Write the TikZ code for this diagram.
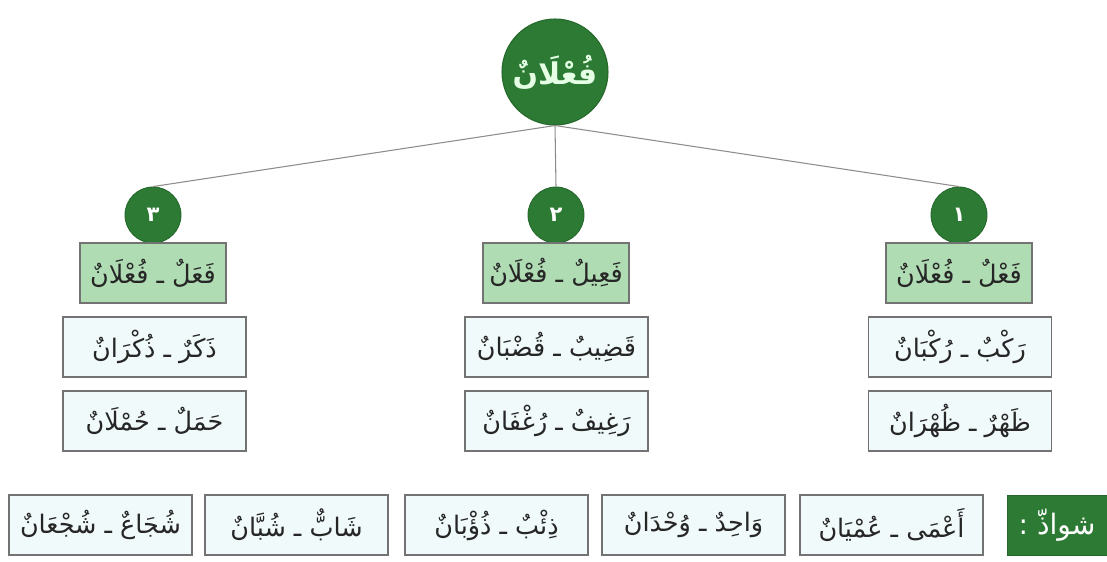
\documentclass[tikz,border=0pt]{standalone}
\usepackage{fontspec}
\newfontfamily\arabicfont[Script=Arabic]{DejaVu Sans}
\TeXXeTstate=1
\usepackage{tikz}
\usetikzlibrary{positioning}

\definecolor{vertfonce}{RGB}{44,122,52}
\definecolor{vertpale}{RGB}{176,220,180}
\definecolor{bleupale}{RGB}{241,250,250}
% texte de droite a gauche
\newcommand{\arabtxt}[1]{\beginR#1\endR}

\begin{document}
\begin{tikzpicture}[
  x=1cm, y=1cm,
  racine/.style={
    circle, fill=vertfonce, draw=vertfonce!85!black, line width=0.6pt,
    inner sep=0pt, minimum size=2.12cm, text=green!10,
    font=\arabicfont\bfseries\fontsize{17}{20}\selectfont
  },
  numero/.style={
    circle, fill=vertfonce, draw=vertfonce!85!black, line width=0.5pt,
    inner sep=0pt, minimum size=1.12cm, text=white,
    font=\arabicfont\bfseries\fontsize{12}{14}\selectfont
  },
  wazn/.style={
    rectangle, fill=vertpale, draw=black!55, line width=0.7pt,
    minimum width=2.92cm, minimum height=1.20cm, inner sep=2pt,
    text=black!85, font=\arabicfont\fontsize{14.5}{17}\selectfont
  },
  mot/.style={
    rectangle, fill=bleupale, draw=black!55, line width=0.7pt,
    minimum width=3.66cm, minimum height=1.20cm, inner sep=2pt,
    text=black!85, font=\arabicfont\fontsize{14.5}{17}\selectfont
  },
  chadh/.style={
    rectangle, fill=vertfonce, draw=vertfonce!85!black, line width=0.5pt,
    minimum width=2.00cm, minimum height=1.20cm, inner sep=2pt,
    text=white, font=\arabicfont\fontsize{16}{19}\selectfont
  },
  branche/.style={draw=black!45, line width=0.6pt}
]
\useasboundingbox (0,0) rectangle (22.14,11.22);

% ----- racine -----
\node[racine] (racine) at (11.10, 9.78) {\arabtxt{فُعْلَانٌ}};

% ----- 1. colonne droite -----
\node[numero] (num1) at (19.18, 6.92) {١};
\node[wazn] (wazn1) at (19.18, 5.76) {\arabtxt{فَعْلٌ ـ فُعْلَانٌ}};
\node[mot] (mot1a) at (19.20, 4.28) {\arabtxt{رَكْبٌ ـ رُكْبَانٌ}};
\node[mot] (mot1b) at (19.20, 2.80) {\arabtxt{ظَهْرٌ ـ ظُهْرَانٌ}};

% ----- 2. colonne du milieu -----
\node[numero] (num2) at (11.12, 6.92) {٢};
\node[wazn] (wazn2) at (11.12, 5.76) {\arabtxt{فَعِيلٌ ـ فُعْلَانٌ}};
\node[mot] (mot2a) at (11.13, 4.28) {\arabtxt{قَضِيبٌ ـ قُضْبَانٌ}};
\node[mot] (mot2b) at (11.13, 2.80) {\arabtxt{رَغِيفٌ ـ رُغْفَانٌ}};

% ----- 3. colonne gauche -----
\node[numero] (num3) at (3.06, 6.92) {٣};
\node[wazn] (wazn3) at (3.06, 5.76) {\arabtxt{فَعَلٌ ـ فُعْلَانٌ}};
\node[mot] (mot3a) at (3.09, 4.28) {\arabtxt{ذَكَرٌ ـ ذُكْرَانٌ}};
\node[mot] (mot3b) at (3.09, 2.80) {\arabtxt{حَمَلٌ ـ حُمْلَانٌ}};

% branches
\draw[branche] (racine.south) -- (num1.north);
\draw[branche] (racine.south) -- (num2.north);
\draw[branche] (racine.south) -- (num3.north);

% ----- shawadh -----
\node[chadh] (chadh) at (21.14, 0.72) {\arabtxt{شواذّ :}};
\node[mot] (sh1) at (17.83, 0.72) {\arabtxt{أَعْمَى ـ عُمْيَانٌ}};
\node[mot] (sh2) at (13.87, 0.72) {\arabtxt{وَاحِدٌ ـ وُحْدَانٌ}};
\node[mot] (sh3) at (9.93, 0.72) {\arabtxt{ذِئْبٌ ـ ذُؤْبَانٌ}};
\node[mot] (sh4) at (5.93, 0.72) {\arabtxt{شَابٌّ ـ شُبَّانٌ}};
\node[mot] (sh5) at (2.01, 0.72) {\arabtxt{شُجَاعٌ ـ شُجْعَانٌ}};

\end{tikzpicture}
\end{document}
